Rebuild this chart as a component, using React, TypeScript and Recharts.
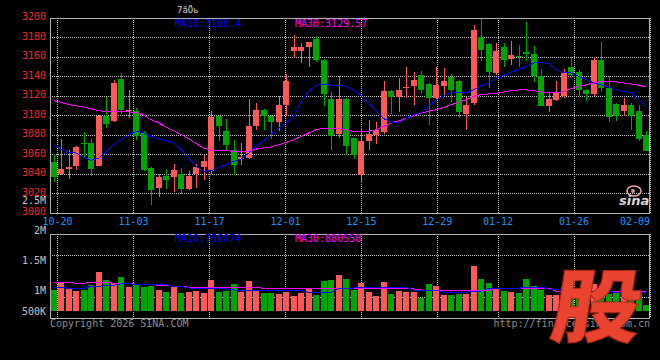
import React from "react";
import { ComposedChart, Bar, Line, XAxis, YAxis, CartesianGrid } from "recharts";

const dates = [
  "10-17","10-20","10-21","10-22","10-23","10-24","10-27","10-28","10-29","10-30",
  "10-31","11-03","11-04","11-05","11-06","11-07","11-10","11-11","11-12","11-13",
  "11-14","11-17","11-18","11-19","11-20","11-21","11-24","11-25","11-26","11-27",
  "11-28","12-01","12-02","12-03","12-04","12-05","12-08","12-09","12-10","12-11",
  "12-12","12-15","12-16","12-17","12-18","12-19","12-22","12-23","12-24","12-25",
  "12-26","12-29","12-30","12-31","01-05","01-06","01-07","01-08","01-09","01-12",
  "01-13","01-14","01-15","01-16","01-19","01-20","01-21","01-22","01-23","01-26",
  "01-27","01-28","01-29","01-30","02-02","02-03","02-04","02-05","02-06","02-09",
];

const opens = [
  3052.6,3040.0,3044.8,3047.9,3072.1,3072.1,3048.5,3099.8,3094.0,3137.8,
  3105.0,3105.0,3082.0,3046.5,3025.6,3038.0,3036.6,3040.0,3024.3,3040.0,
  3047.5,3042.7,3099.8,3084.4,3065.0,3055.7,3056.4,3088.9,3106.0,3099.8,
  3093.0,3110.4,3166.5,3166.5,3170.6,3178.8,3157.3,3117.3,3081.4,3117.3,
  3076.9,3039.3,3074.2,3080.3,3083.1,3125.5,3118.6,3128.2,3129.9,3141.9,
  3132.6,3117.9,3129.9,3139.1,3135.7,3101.9,3112.8,3180.9,3173.7,3143.6,
  3169.9,3157.9,3161.4,3165.5,3163.4,3140.9,3110.1,3115.6,3119.7,3149.4,
  3144.3,3126.5,3122.4,3157.3,3128.2,3112.1,3104.3,3111.1,3105.0,3079.7,
];
const highs = [
  3060.5,3076.2,3065.0,3068.7,3083.4,3076.2,3100.5,3119.3,3136.1,3143.9,
  3126.5,3107.7,3084.4,3047.0,3040.0,3045.5,3049.9,3046.2,3042.7,3050.6,
  3059.8,3104.3,3100.2,3096.8,3074.9,3071.5,3117.3,3112.8,3106.5,3100.3,
  3119.7,3142.6,3182.9,3174.4,3175.8,3181.9,3157.8,3124.1,3140.2,3117.8,
  3077.4,3087.2,3095.7,3093.3,3135.0,3126.0,3138.5,3149.7,3144.6,3145.3,
  3133.1,3149.7,3148.7,3142.6,3136.2,3118.6,3193.2,3199.5,3174.4,3174.4,
  3174.4,3176.1,3172.6,3195.9,3171.6,3148.0,3124.1,3135.7,3148.0,3160.0,
  3147.0,3127.0,3160.0,3175.0,3140.2,3112.6,3117.9,3112.8,3111.1,3083.8,
];
const lows = [
  3031.5,3039.3,3035.2,3044.4,3056.4,3037.6,3047.9,3086.8,3093.3,3101.9,
  3097.4,3075.2,3043.5,3007.9,3016.1,3024.6,3021.2,3019.5,3024.0,3025.6,
  3033.5,3040.0,3074.2,3064.0,3039.3,3048.9,3055.7,3085.5,3084.8,3076.2,
  3083.8,3099.1,3158.6,3153.5,3149.4,3154.5,3109.4,3065.0,3076.9,3060.0,
  3055.7,3030.8,3065.0,3070.8,3081.0,3101.9,3103.2,3117.9,3111.1,3123.1,
  3089.9,3117.4,3121.4,3113.8,3097.4,3084.8,3110.4,3155.6,3128.2,3141.9,
  3149.4,3151.5,3149.4,3155.6,3134.0,3109.4,3103.2,3115.1,3117.9,3140.2,
  3120.3,3114.5,3120.3,3123.8,3093.3,3094.7,3099.1,3085.5,3073.5,3063.2,
];
const closes = [
  3036.6,3045.5,3047.5,3068.0,3070.4,3045.5,3099.8,3090.9,3133.7,3105.3,
  3105.6,3078.6,3043.8,3023.2,3037.3,3033.5,3044.4,3024.3,3038.0,3047.2,
  3053.0,3098.1,3089.6,3069.4,3048.9,3057.1,3089.6,3106.0,3099.1,3093.0,
  3110.4,3135.0,3169.9,3169.9,3175.4,3157.3,3122.4,3078.6,3117.3,3068.4,
  3059.1,3074.2,3081.4,3084.8,3125.5,3118.6,3126.5,3128.9,3136.8,3126.5,
  3117.9,3130.9,3135.0,3126.5,3103.2,3111.1,3188.0,3167.5,3144.3,3165.8,
  3157.3,3162.4,3159.7,3163.1,3140.2,3110.1,3117.3,3124.1,3143.6,3141.9,
  3126.5,3122.4,3157.3,3128.2,3098.1,3099.1,3110.4,3099.8,3076.2,3064.0,
];
const ma10 = [
  3070.1,3065.6,3062.2,3061.5,3057.1,3054.0,3056.4,3063.2,3070.1,3075.2,
  3080.3,3083.8,3082.1,3078.6,3075.9,3074.5,3071.8,3065.0,3056.4,3047.9,
  3042.7,3043.4,3046.8,3049.6,3053.0,3055.4,3061.5,3068.4,3074.2,3081.0,
  3087.2,3092.3,3099.1,3114.5,3124.8,3130.9,3132.3,3130.9,3130.9,3129.9,
  3126.5,3119.7,3112.8,3104.3,3096.8,3093.3,3092.3,3097.4,3100.9,3103.2,
  3109.4,3116.2,3119.7,3124.1,3123.1,3123.1,3126.5,3130.6,3133.3,3138.5,
  3141.2,3144.6,3147.0,3150.4,3153.8,3154.9,3152.8,3147.0,3143.6,3143.6,
  3140.2,3136.8,3133.3,3131.6,3128.9,3126.5,3124.8,3123.1,3116.2,3108.4,
];
const ma30 = [
  3115.2,3113.5,3111.1,3110.1,3108.7,3107.0,3105.0,3103.6,3103.6,3103.6,
  3103.6,3103.2,3100.2,3095.7,3092.3,3088.2,3084.4,3080.3,3076.2,3071.1,
  3066.7,3064.3,3063.9,3063.9,3063.2,3062.6,3063.2,3065.6,3066.7,3067.7,
  3070.1,3072.5,3075.2,3078.6,3082.1,3085.5,3086.8,3086.8,3086.5,3085.5,
  3083.8,3083.1,3083.8,3085.5,3088.9,3092.3,3094.7,3097.4,3099.8,3102.6,
  3104.3,3106.0,3108.4,3111.1,3113.8,3116.2,3119.7,3121.4,3122.1,3122.7,
  3124.1,3125.5,3126.2,3126.2,3125.5,3124.1,3123.1,3123.1,3124.8,3127.5,
  3129.9,3131.6,3133.3,3135.0,3135.0,3134.4,3133.3,3132.3,3130.9,3129.6,
];
// volumes in thousands
const volumesK = [
  1000,1122,1011,983,1000,1083,1300,1167,1122,1217,
  1050,1094,1050,1067,1000,967,1050,950,967,983,
  956,1167,967,983,1094,967,1150,1000,950,950,
  933,967,906,956,1022,922,1150,1167,1250,1189,
  1000,1117,967,900,1133,933,983,967,967,867,
  1100,1067,917,917,933,933,1400,1183,1117,1033,
  983,967,950,1183,1067,1000,917,920,1050,880,
  980,900,1100,860,940,950,900,970,970,755,
];
const volMa10K = [
  1045,1045,1028,1028,1028,1062,1062,1078,1078,1105,
  1105,1088,1088,1088,1088,1088,1062,1062,1033,1033,
  1033,1017,1017,1017,1000,1000,1000,1000,1000,1000,
  988,988,988,988,962,962,962,962,1022,1030,
  1033,1050,1050,1050,1045,1045,1045,1045,1000,1000,
  1000,1000,962,962,962,962,983,983,1028,1028,
  1028,1028,1028,1050,1050,1050,1012,1012,1012,1012,
  1012,978,978,978,978,955,955,955,955,955,
];
const volMa30K = [
  1128,1128,1128,1112,1112,1128,1128,1128,1112,1112,
  1112,1095,1095,1095,1078,1078,1062,1062,1045,1045,
  1045,1045,1045,1045,1045,1045,1045,1045,1028,1028,
  1028,1028,1028,1017,1017,1017,1017,1017,1017,1017,
  1028,1028,1028,1017,1017,1017,1017,1017,1017,1000,
  1000,1000,1000,1000,1000,1000,1000,1000,1000,1028,
  1028,1028,1028,1028,1028,1028,1028,978,978,978,
  978,978,978,978,978,978,978,978,978,978,
];

const priceTicks = [3000,3020,3040,3060,3080,3100,3120,3140,3160,3180,3200];
const priceDomain = [3000, 3200];
const dateTickLabels = ["10-20","11-03","11-17","12-01","12-15","12-29","01-12","01-26","02-09"];
const volTicks = [500000, 1000000, 1500000, 2000000];
const volTickLabels = ["500K", "1M", "1.5M", "2M"];
const volDomain = [533333, 1933333];
const volBase = 650000;
const priceLegend = ["MA10:3108.4", "MA30:3129.57"];
const volLegend = ["MA10:756074", "MA30:880558"];

const RED = "#ff5858";
const GREEN = "#00a600";
const BLUE = "#0000ff";
const MAGENTA = "#ff00ff";
const GRID = "#c4c4c4";
const FRAME = "#b4b4b4";
const MONO = "'DejaVu Sans Mono', 'Liberation Mono', monospace";

const rows = dates.map((d, i) => ({
  idx: i,
  date: d,
  open: opens[i],
  high: highs[i],
  low: lows[i],
  close: closes[i],
  up: closes[i] >= opens[i],
  range: [lows[i], highs[i]],
  ma10: ma10[i],
  ma30: ma30[i],
  volRange: [volBase, volumesK[i] * 1000],
  vma10: volMa10K[i] * 1000,
  vma30: volMa30K[i] * 1000,
}));
const dateTickIdx = dateTickLabels.map((l) => dates.indexOf(l));
const lastIdx = dates.length - 1;

function Candle(props: any) {
  const { x, y, width, height, payload } = props;
  if (x == null || y == null || !payload) return null;
  const top = Math.min(y, y + height);
  const h = Math.abs(height);
  const { open, close, high, low, up } = payload;
  const span = high - low || 1;
  const toY = (v: number) => top + ((high - v) / span) * h;
  const bx = Math.floor(x);
  const bw = Math.round(width);
  const wx = bx + Math.floor(bw / 2);
  const bTop = Math.round(toY(Math.max(open, close)));
  const bBot = Math.round(toY(Math.min(open, close)));
  const wTop = Math.round(top);
  const wBot = Math.round(top + h);
  const color = up ? RED : GREEN;
  return (
    <g>
      <rect x={wx} y={wTop} width={1} height={Math.max(1, wBot - wTop)} fill={color} />
      <rect x={bx} y={bTop} width={bw} height={Math.max(1, bBot - bTop)} fill={color} />
    </g>
  );
}

function VolBar(props: any) {
  const { x, y, width, height, payload } = props;
  if (x == null || y == null || !payload) return null;
  const top = Math.round(Math.min(y, y + height));
  const bot = Math.round(Math.max(y, y + height));
  return (
    <rect x={Math.floor(x)} y={top} width={Math.round(width)} height={Math.max(1, bot - top)} fill={payload.up ? RED : GREEN} />
  );
}

function PriceTick(p: any) {
  return (
    <text x={p.x - 4} y={p.y + 2} textAnchor="end" fill="#f02828" fontFamily={MONO} fontSize={10}>
      {p.payload.value}
    </text>
  );
}

function DateTick(p: any) {
  const v = p.payload.value;
  return (
    <text x={p.x} y={p.y + 11.5} textAnchor={v === lastIdx ? "end" : "middle"} fill="#2090ff" fontFamily={MONO} fontSize={10}>
      {dates[v]}
    </text>
  );
}

function VolTick(p: any) {
  const i = volTicks.indexOf(p.payload.value);
  const y = Math.min(p.y, 85);
  return (
    <text x={p.x - 4} y={y + 3.6} textAnchor="end" fill="#c4c4c4" fontFamily={MONO} fontSize={10}>
      {volTickLabels[i]}
    </text>
  );
}

export default function App() {
  return (
    <div style={{ position: "fixed", left: 0, top: 0, width: 660, height: 360, background: "#000", overflow: "hidden" }}>
      <style>{`.kchart svg * { shape-rendering: crispEdges; }`}</style>
      <div className="kchart" style={{ position: "absolute", left: 0, top: 0 }}>
        <ComposedChart width={660} height={235} data={rows} margin={{ top: 18, right: 10, bottom: 0, left: 0 }}>
          <XAxis
            xAxisId="dates"
            dataKey="idx"
            type="number"
            orientation="bottom"
            domain={[0, lastIdx]}
            ticks={dateTickIdx}
            interval={0}
            height={22}
            axisLine={false}
            tickLine={false}
            tickSize={0}
            tickMargin={0}
            tick={<DateTick />}
          />
          <XAxis xAxisId="cat" dataKey="date" orientation="top" height={0} hide />
          <YAxis
            yAxisId="price"
            domain={priceDomain}
            allowDataOverflow
            ticks={priceTicks}
            interval={0}
            width={50}
            axisLine={false}
            tickLine={false}
            tickSize={0}
            tickMargin={0}
            tick={<PriceTick />}
          />
          <CartesianGrid xAxisId="dates" yAxisId="price" stroke={GRID} strokeDasharray="1 1" />
          <Bar xAxisId="cat" yAxisId="price" dataKey="range" barSize={6} shape={(p: any) => <Candle {...p} />} isAnimationActive={false} />
          <Line xAxisId="cat" yAxisId="price" dataKey="ma30" stroke={MAGENTA} strokeWidth={1} dot={false} activeDot={false} isAnimationActive={false} />
          <Line xAxisId="cat" yAxisId="price" dataKey="ma10" stroke={BLUE} strokeWidth={1} dot={false} activeDot={false} isAnimationActive={false} />
        </ComposedChart>
      </div>
      <div className="kchart" style={{ position: "absolute", left: 0, top: 226 }}>
        <ComposedChart width={660} height={92} data={rows} margin={{ top: 8, right: 10, bottom: 0, left: 0 }}>
          <YAxis
            yAxisId="vol"
            orientation="left"
            domain={volDomain}
            allowDataOverflow
            ticks={volTicks}
            interval={0}
            width={50}
            axisLine={false}
            tickLine={false}
            tickSize={0}
            tickMargin={0}
            tick={<VolTick />}
          />
          <YAxis yAxisId="grid" orientation="right" width={0} hide domain={[0, 4]} ticks={[1, 2, 3]} allowDataOverflow />
          <XAxis xAxisId="dates" dataKey="idx" type="number" orientation="bottom" height={0} domain={[0, lastIdx]} ticks={dateTickIdx} hide />
          <XAxis xAxisId="cat" dataKey="date" orientation="top" height={0} hide />
          <CartesianGrid xAxisId="dates" yAxisId="grid" stroke={GRID} strokeDasharray="1 1" />
          <Bar xAxisId="cat" yAxisId="vol" dataKey="volRange" barSize={6} shape={(p: any) => <VolBar {...p} />} isAnimationActive={false} />
          <Line xAxisId="cat" yAxisId="vol" dataKey="vma30" stroke={MAGENTA} strokeWidth={1} dot={false} activeDot={false} isAnimationActive={false} />
          <Line xAxisId="cat" yAxisId="vol" dataKey="vma10" stroke={BLUE} strokeWidth={1} dot={false} activeDot={false} isAnimationActive={false} />
        </ComposedChart>
      </div>
      <svg width={660} height={360} style={{ position: "absolute", left: 0, top: 0, pointerEvents: "none" }}>
        <g shapeRendering="crispEdges" fill="none" stroke={FRAME} strokeWidth={1}>
          <rect x={50.5} y={18.5} width={599} height={195} />
          <rect x={50.5} y={234.5} width={599} height={84} />
        </g>
        <g fontFamily={MONO} fontSize={10}>
          <text x={177} y={13} fill="#d0d0d0" fontSize={9}>7ãÖь</text>
          <text x={175} y={27} fill={BLUE}>{priceLegend[0]}</text>
          <text x={295} y={27} fill={MAGENTA}>{priceLegend[1]}</text>
          <text x={175} y={242} fill={BLUE}>{volLegend[0]}</text>
          <text x={295} y={242} fill={MAGENTA}>{volLegend[1]}</text>
          <text x={46} y={204.3} textAnchor="end" fill="#c4c4c4">2.5M</text>
          <text x={50} y={327} fill="#8c8c8c">Copyright 2026 SINA.COM</text>
          <text x={650} y={327} textAnchor="end" fill="#8c8c8c">http://finance.sina.com.cn</text>
        </g>
        <g>
          <ellipse cx={634} cy={191} rx={7} ry={5} fill="none" stroke="#f0a8a8" strokeWidth={1.5} />
          <circle cx={633} cy={191} r={2} fill="#d89090" />
          <text x={619} y={205} fill="#d8d8d8" fontSize={13} fontStyle="italic" fontWeight="bold" fontFamily="'DejaVu Sans', sans-serif">sina</text>
        </g>
        <g transform="translate(548,336) skewX(-9) scale(1.12,1)">
          <text x={0} y={0} fontSize={80} fontWeight={900} fontFamily="'Noto Sans CJK SC', sans-serif" fill="#ea4430" stroke="#a82818" strokeWidth={1}>
            股
          </text>
        </g>
      </svg>
    </div>
  );
}
